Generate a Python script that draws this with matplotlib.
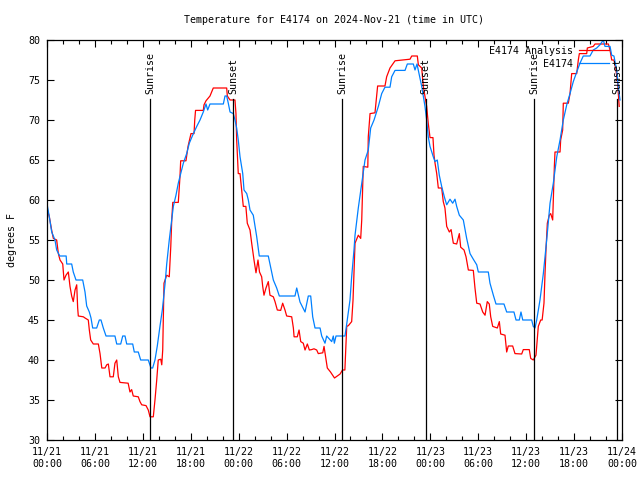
import matplotlib
matplotlib.use("Agg")
import matplotlib.pyplot as plt
import matplotlib.dates as mdates
from datetime import datetime, timedelta

# Observed (E4174), hours since 2024-11-21 00:00 UTC
obs_hr = [0.0, 0.29, 0.59, 1.0, 1.21, 1.6, 2.4, 2.47, 3.09, 3.29, 3.63, 4.47, 4.76, 4.97, 5.3, 5.51,
          5.72, 6.22, 6.55, 6.76, 7.05, 7.39, 8.51, 8.73, 9.23, 9.48, 9.77, 9.98, 10.73, 10.93, 11.43,
          11.73, 12.68, 13.02, 13.23, 13.52, 13.81, 14.15, 14.44, 14.78, 14.99, 15.31, 15.61, 15.82,
          16.15, 16.44, 16.74, 17.07, 17.49, 17.82, 18.24, 18.75, 19.16, 19.57, 19.91, 20.12, 20.41,
          22.08, 22.29, 22.5, 22.7, 22.92, 23.33, 23.54, 23.75, 23.95, 24.17, 24.51, 24.67, 25.01,
          25.21, 25.42, 25.83, 26.05, 26.26, 26.58, 27.71, 27.92, 28.34, 28.76, 29.09, 31.05, 31.27,
          31.68, 32.31, 32.72, 33.02, 33.27, 33.56, 34.19, 34.4, 34.81, 35.02, 35.65, 35.85, 35.98,
          36.19, 37.31, 37.53, 37.94, 38.15, 38.44, 38.57, 38.98, 39.41, 39.82, 40.23, 40.53, 40.95,
          41.49, 41.91, 42.32, 42.95, 43.16, 43.58, 44.83, 45.12, 45.87, 46.08, 46.33, 46.62, 46.92,
          47.33, 47.54, 47.74, 47.96, 48.37, 48.59, 48.87, 49.12, 49.42, 49.75, 50.05, 50.46, 50.8,
          51.09, 51.3, 51.63, 52.13, 52.55, 52.97, 53.38, 53.81, 54.01, 55.26, 55.47, 55.89, 56.22,
          57.22, 57.56, 58.47, 58.73, 59.14, 59.35, 59.57, 60.69, 60.89, 61.11, 61.32, 61.73, 62.15,
          62.57, 62.99, 63.4, 63.83, 64.24, 64.65, 65.08, 65.49, 65.9, 66.33, 66.74, 67.15, 67.99,
          68.4, 68.83, 69.24, 69.66, 69.87, 70.5, 70.71, 70.99, 71.33, 71.53, 71.75]
obs_temp = [59.5, 57.9, 56.0, 55.0, 53.75, 53.0, 53.0, 52.0, 52.0, 51.0, 50.0, 50.0, 48.5, 46.75, 46.0, 45.25,
            44.0, 44.0, 45.0, 45.0, 44.0, 43.0, 43.0, 42.0, 42.0, 43.0, 43.0, 42.0, 42.0, 41.0, 41.0,
            40.0, 40.0, 39.0, 39.0, 40.0, 41.75, 44.25, 46.25, 49.5, 52.0, 55.0, 57.5, 59.2,
            60.6, 62.1, 63.3, 64.6, 65.8, 67.1, 68.1, 69.2, 70.0, 71.0, 72.0, 71.25, 72.0,
            72.0, 73.0, 73.0, 72.1, 71.0, 70.8, 70.0, 69.0, 67.5, 65.4, 63.3, 61.25, 60.8,
            60.0, 58.75, 58.1, 56.7, 55.4, 53.0, 53.0, 52.0, 50.0, 49.0, 48.0, 48.0, 49.0,
            47.25, 46.0, 48.0, 48.0, 45.4, 44.0, 44.0, 43.0, 42.1, 43.0, 42.3, 43.0, 42.1,
            43.0, 43.0, 44.5, 47.5, 50.4, 53.75, 55.6, 59.0, 62.1, 65.0, 66.25, 69.0, 70.0,
            71.7, 73.3, 74.1, 74.1, 75.4, 76.2, 76.2, 77.0, 77.0, 76.25, 77.0, 75.6, 74.2,
            71.7, 70.0, 67.9, 66.7, 65.4, 64.8, 65.0, 63.1, 61.7, 60.4, 59.4, 60.1, 59.6,
            60.1, 59.2, 58.1, 57.5, 55.2, 53.3, 52.6, 51.9, 51.0, 51.0, 49.6, 48.1, 47.0,
            47.0, 46.0, 46.0, 45.0, 45.0, 46.0, 45.0, 45.0, 44.2, 44.0, 45.0, 47.5, 50.8,
            55.0, 59.6, 62.1, 65.4, 67.5, 70.0, 71.9, 73.3, 74.8, 76.0, 77.1, 78.0, 78.0,
            78.75, 79.0, 79.4, 80.0, 79.2, 79.2, 78.1, 78.0, 76.25, 74.2, 72.5]

# Analysis (E4174 Analysis)
ana_hr = [0.0, 0.29, 0.59, 0.79, 1.21, 1.42, 1.63, 1.97, 2.13, 2.38, 2.67, 2.88, 3.09, 3.29, 3.51, 3.72,
          3.84, 3.92, 4.55, 4.76, 5.17, 5.3, 5.47, 5.8, 6.43, 6.64, 6.86, 7.27, 7.48, 7.68, 7.89, 8.3,
          8.51, 8.73, 8.93, 9.14, 10.16, 10.39, 10.6, 10.8, 11.43, 11.64, 11.86, 12.4, 12.68, 12.9,
          13.31, 13.52, 13.74, 13.93, 14.24, 14.37, 14.49, 14.65, 14.99, 15.31, 15.5, 15.62, 15.75,
          16.44, 16.65, 16.74, 17.4, 17.66, 18.03, 18.41, 18.5, 18.6, 19.57, 19.66, 19.91, 20.41,
          20.62, 20.82, 22.5, 22.58, 22.92, 23.54, 23.66, 23.75, 23.95, 24.17, 24.37, 24.58, 24.9,
          25.08, 25.42, 25.63, 25.92, 26.17, 26.42, 26.61, 26.88, 27.01, 27.17, 27.42, 27.71, 27.92,
          28.34, 28.55, 28.84, 29.26, 29.51, 29.8, 30.01, 30.64, 30.85, 30.94, 31.34, 31.56, 31.77,
          32.09, 32.31, 32.6, 32.85, 33.14, 33.43, 33.77, 33.97, 34.53, 34.69, 34.94, 35.1, 35.5,
          36.0, 36.7, 37.0, 37.3, 37.53, 37.74, 38.15, 38.32, 38.57, 38.98, 39.28, 39.41, 39.6,
          40.17, 40.23, 40.45, 41.07, 41.4, 42.32, 42.53, 42.95, 43.58, 45.46, 45.67, 46.37, 46.5,
          46.92, 47.12, 47.54, 47.74, 47.96, 48.33, 48.46, 48.59, 48.8, 49.0, 49.42, 49.62, 49.83,
          50.05, 50.38, 50.6, 50.88, 51.3, 51.63, 51.8, 52.22, 52.47, 52.76, 53.38, 53.59, 53.81,
          54.22, 54.56, 54.85, 55.13, 55.38, 55.56, 55.81, 56.39, 56.64, 56.81, 57.35, 57.56, 57.76,
          58.31, 58.6, 59.44, 59.64, 60.39, 60.57, 60.89, 61.23, 61.52, 61.82, 62.0, 62.23, 62.36,
          62.48, 62.65, 62.9, 63.07, 63.32, 63.4, 63.53, 63.61, 64.24, 64.32, 64.57, 64.65, 65.28,
          65.49, 65.7, 66.33, 66.53, 66.66, 67.58, 67.66, 68.4, 68.62, 70.29, 70.5, 70.71, 70.99,
          71.24, 71.45, 71.65]
ana_temp = [59.0, 57.9, 56.2, 55.2, 55.0, 53.3, 52.5, 52.0, 50.0, 50.6, 51.0, 49.2, 48.0, 47.3, 48.75, 49.4,
            46.5, 45.5, 45.4, 45.25, 45.0, 43.75, 42.5, 42.0, 42.0, 40.8, 39.0, 39.0, 39.4, 39.5, 37.9, 37.9,
            39.6, 40.0, 37.9, 37.2, 37.1, 36.0, 36.3, 35.5, 35.4, 34.8, 34.4, 34.3, 33.75, 32.9,
            32.9, 35.0, 37.5, 40.0, 40.1, 39.4, 41.25, 49.6, 50.6, 50.4, 54.2, 57.5, 59.7,
            59.7, 62.9, 64.9, 64.9, 66.7, 68.3, 68.3, 70.0, 71.2, 71.2, 71.9, 72.4, 73.0,
            73.5, 74.0, 74.0, 73.0, 72.5, 72.5, 70.8, 67.5, 63.3, 63.3, 61.25, 59.2, 59.2,
            57.1, 56.25, 54.6, 52.5, 50.9, 52.5, 51.0, 50.4, 49.2, 48.1, 49.0, 49.8, 48.1,
            47.9, 47.3, 46.25, 46.2, 47.1, 46.25, 45.5, 45.4, 44.0, 42.9, 42.9, 43.75, 42.3,
            42.1, 41.25, 42.0, 41.25, 41.3, 41.4, 41.25, 40.8, 40.9, 41.7, 40.0, 39.0, 38.5,
            37.75, 38.25, 38.75, 38.75, 44.2, 44.3, 44.8, 47.5, 54.6, 55.6, 55.2, 57.5, 64.2,
            64.1, 67.9, 70.8, 70.9, 74.25, 74.25, 75.4, 76.5, 77.4, 77.6, 78.0, 78.0, 76.9,
            76.5, 74.2, 71.7, 69.6, 67.8, 67.8, 65.6, 64.6, 63.3, 61.5, 61.5, 59.8, 59.0,
            56.7, 56.0, 56.3, 54.6, 54.5, 55.8, 54.1, 53.75, 52.9, 51.25, 51.2, 49.0, 47.1,
            47.0, 46.0, 45.6, 47.3, 47.0, 45.4, 44.2, 44.0, 44.8, 43.25, 43.1, 41.0, 41.75,
            41.75, 40.8, 40.75, 41.3, 41.3, 40.2, 40.0, 40.6, 44.2, 45.0, 45.0, 47.1, 50.8,
            53.75, 57.1, 58.1, 58.3, 57.5, 60.0, 64.2, 66.0, 66.0, 67.5, 68.75, 72.1, 72.1,
            73.3, 75.8, 75.8, 77.5, 78.3, 78.3, 79.0, 79.2, 79.5, 79.5, 78.75, 77.5, 77.5,
            76.25, 74.6, 71.7]

sunrise_hr = [12.95, 36.98, 61.02]
sunset_hr = [23.35, 47.42, 71.42]

t0 = datetime(2024, 11, 21)
def to_time(hrs):
    return [t0 + timedelta(hours=h) for h in hrs]

plt.rcParams['font.family'] = ['DejaVu Sans Mono']
plt.rcParams['font.size'] = 7.2

fig = plt.figure(figsize=(6.4, 4.8), dpi=100)
ax = fig.add_axes([47/640, 40/480, 575/640, 400/480])

ax.plot(to_time(ana_hr), ana_temp, color='#ff0000', lw=0.9, label='E4174 Analysis')
ax.plot(to_time(obs_hr), obs_temp, color='#0080ff', lw=0.9, label='E4174')

for h in sunrise_hr:
    t = t0 + timedelta(hours=h)
    ax.plot([t, t], [30, 72.6], color='black', lw=0.9)
    ax.text(t, 73.3, 'Sunrise', rotation=90, ha='center', va='bottom')
for h in sunset_hr:
    t = t0 + timedelta(hours=h)
    ax.plot([t, t], [30, 72.6], color='black', lw=0.9)
    ax.text(t, 73.3, 'Sunset', rotation=90, ha='center', va='bottom')

ax.set_xlim(t0, t0 + timedelta(hours=72))
ax.set_ylim(30, 80)
ax.set_yticks(range(30, 81, 5))
ax.xaxis.set_major_locator(mdates.HourLocator(byhour=[0, 6, 12, 18]))
ax.xaxis.set_minor_locator(mdates.HourLocator(byhour=range(0, 24, 2)))
ax.xaxis.set_major_formatter(mdates.DateFormatter('%m/%d\n%H:%M'))
ax.tick_params(which='both', direction='in', top=True, right=True, width=0.8)
ax.tick_params(which='major', length=5, pad=5)
ax.tick_params(which='minor', length=3)
for s in ax.spines.values():
    s.set_linewidth(0.9)

ax.set_ylabel('degrees F', labelpad=8)
ax.set_title('Temperature for E4174 on 2024-Nov-21 (time in UTC)', fontsize=7.2, pad=12)

ax.legend(loc='upper right', bbox_to_anchor=(0.988, 1.0), markerfirst=False, frameon=False,
          handlelength=3.0, handletextpad=0.6, labelspacing=0.3, borderaxespad=0.2)

fig.savefig('out.png', dpi=100)
